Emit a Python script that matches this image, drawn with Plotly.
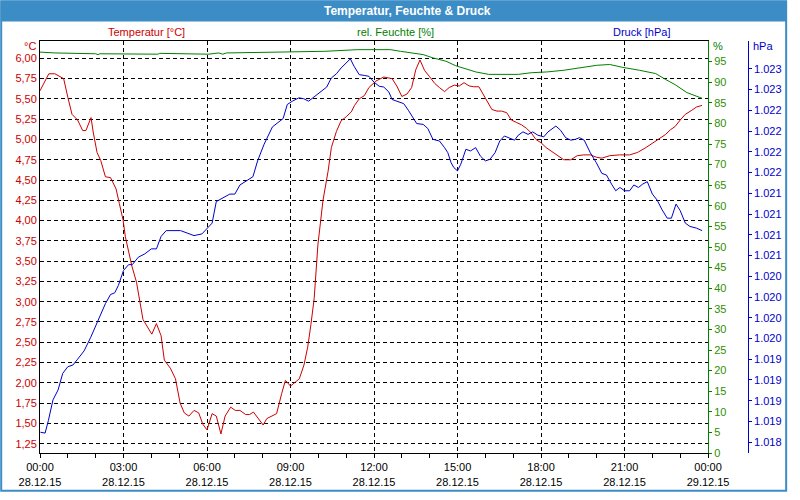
import plotly.graph_objects as go

# ---------------- data (minutes since 28.12.15 00:00) ----------------
temp_time = [0, 19, 32, 51, 60, 69, 81, 92, 99, 110, 115, 123, 131, 141, 152, 164, 171, 179, 184,
             198, 208, 215, 222, 241, 251, 261, 268, 281, 292, 302, 311, 321, 332, 342, 351, 360,
             371, 380, 390, 399, 411, 421, 431, 443, 452, 460, 472, 481, 489, 500, 510, 521, 529,
             540, 549, 559, 569, 577, 584, 591, 599, 610, 621, 628, 639, 649, 660, 671, 678, 688,
             699, 709, 724, 741, 759, 769, 780, 791, 801, 810, 819, 829, 839, 851, 861, 872, 882,
             893, 904, 914, 925, 935, 946, 953, 964, 974, 985, 995, 1006, 1016, 1027, 1038, 1048,
             1059, 1069, 1080, 1091, 1101, 1115, 1129, 1144, 1158, 1172, 1186, 1200, 1211, 1228,
             1249, 1271, 1288, 1306, 1327, 1348, 1359, 1369, 1380, 1391, 1405, 1415, 1427]
temp = [5.60, 5.81, 5.81, 5.75, 5.52, 5.31, 5.24, 5.11, 5.11, 5.27, 5.08, 4.84, 4.74, 4.54, 4.53,
        4.39, 4.21, 4.01, 3.80, 3.44, 3.24, 3.00, 2.78, 2.60, 2.73, 2.58, 2.28, 2.18, 2.05, 1.75,
        1.63, 1.59, 1.66, 1.63, 1.49, 1.42, 1.62, 1.59, 1.37, 1.59, 1.70, 1.66, 1.66, 1.61, 1.61,
        1.64, 1.54, 1.48, 1.56, 1.59, 1.62, 1.87, 2.03, 1.96, 2.00, 2.05, 2.22, 2.44, 2.72, 3.04,
        3.70, 4.25, 4.61, 4.90, 5.10, 5.23, 5.28, 5.34, 5.42, 5.50, 5.54, 5.64, 5.72, 5.77, 5.75,
        5.66, 5.53, 5.56, 5.64, 5.86, 5.98, 5.85, 5.78, 5.69, 5.64, 5.59, 5.64, 5.67, 5.66, 5.70,
        5.66, 5.65, 5.65, 5.58, 5.46, 5.37, 5.35, 5.35, 5.33, 5.24, 5.21, 5.18, 5.14, 5.08, 5.00,
        4.96, 4.90, 4.86, 4.81, 4.75, 4.75, 4.80, 4.81, 4.81, 4.78, 4.77, 4.80, 4.81, 4.81, 4.84,
        4.90, 4.98, 5.06, 5.12, 5.16, 5.24, 5.31, 5.36, 5.40, 5.42]

hum_time = [0, 32, 120, 125, 129, 180, 254, 258, 364, 385, 394, 402, 529, 565, 586, 614, 685, 755,
            777, 805, 826, 847, 875, 896, 918, 939, 967, 1031, 1059, 1094, 1129, 1165, 1200, 1228,
            1256, 1292, 1327, 1348, 1369, 1394, 1412, 1427]
hum = [97.3, 97.1, 96.9, 96.7, 96.9, 96.8, 96.8, 97.0, 96.8, 97.1, 96.8, 97.1, 97.3, 97.4, 97.5,
       97.5, 97.9, 97.9, 97.5, 97.1, 96.7, 95.9, 95.1, 94.0, 93.3, 92.5, 91.9, 91.9, 92.3, 92.5,
       92.9, 93.6, 94.1, 94.3, 93.6, 92.9, 92.1, 90.7, 89.4, 87.5, 86.7, 86.1]

press_time = [1, 11, 18, 28, 39, 49, 60, 71, 81, 95, 109, 123, 131, 141, 152, 161, 169, 180, 191,
              199, 212, 226, 240, 251, 261, 272, 303, 318, 332, 349, 360, 371, 380, 392, 409, 420,
              431, 448, 459, 469, 483, 501, 515, 524, 533, 544, 558, 568, 579, 593, 607, 618, 628,
              639, 649, 669, 677, 688, 699, 709, 720, 731, 741, 752, 759, 773, 784, 794, 805, 812,
              826, 836, 847, 861, 872, 879, 886, 892, 900, 907, 918, 928, 939, 949, 960, 970, 981,
              991, 1001, 1013, 1023, 1031, 1041, 1052, 1062, 1073, 1086, 1095, 1112, 1122, 1133,
              1144, 1154, 1163, 1173, 1186, 1199, 1211, 1221, 1232, 1241, 1250, 1260, 1271, 1280,
              1290, 1299, 1309, 1320, 1330, 1341, 1352, 1361, 1371, 1380, 1391, 1401, 1415, 1427]
press = [1018.52, 1018.51, 1018.66, 1018.91, 1019.03, 1019.23, 1019.31, 1019.33, 1019.40, 1019.50,
         1019.66, 1019.84, 1019.96, 1020.07, 1020.18, 1020.20, 1020.29, 1020.47, 1020.54, 1020.54,
         1020.63, 1020.67, 1020.73, 1020.73, 1020.88, 1020.95, 1020.95, 1020.92, 1020.89, 1020.91,
         1020.98, 1021.04, 1021.30, 1021.34, 1021.39, 1021.39, 1021.50, 1021.56, 1021.60, 1021.79,
         1021.99, 1022.20, 1022.26, 1022.30, 1022.47, 1022.51, 1022.55, 1022.54, 1022.51, 1022.57,
         1022.64, 1022.68, 1022.79, 1022.84, 1022.91, 1023.02, 1022.93, 1022.83, 1022.82, 1022.81,
         1022.74, 1022.69, 1022.68, 1022.62, 1022.53, 1022.50, 1022.48, 1022.40, 1022.31, 1022.24,
         1022.23, 1022.18, 1022.05, 1022.03, 1021.95, 1021.89, 1021.77, 1021.71, 1021.67, 1021.75,
         1021.93, 1021.91, 1021.95, 1021.85, 1021.79, 1021.81, 1021.89, 1022.03, 1022.09, 1022.06,
         1022.04, 1022.10, 1022.14, 1022.11, 1022.14, 1022.10, 1022.08, 1022.14, 1022.21, 1022.16,
         1022.07, 1022.04, 1022.05, 1022.07, 1022.04, 1021.89, 1021.77, 1021.64, 1021.62, 1021.51,
         1021.43, 1021.47, 1021.43, 1021.43, 1021.50, 1021.47, 1021.51, 1021.54, 1021.39, 1021.32,
         1021.20, 1021.10, 1021.10, 1021.27, 1021.19, 1021.04, 1021.00, 1020.98, 1020.95]

# ---------------- ticks ----------------
x_tickvals = [0, 180, 360, 540, 720, 900, 1080, 1260, 1440]
x_ticktext = ["00:00<br>28.12.15", "03:00<br>28.12.15", "06:00<br>28.12.15", "09:00<br>28.12.15",
              "12:00<br>28.12.15", "15:00<br>28.12.15", "18:00<br>28.12.15", "21:00<br>28.12.15",
              "00:00<br>29.12.15"]
temp_tickvals = [1.25, 1.50, 1.75, 2.00, 2.25, 2.50, 2.75, 3.00, 3.25, 3.50, 3.75, 4.00, 4.25,
                 4.50, 4.75, 5.00, 5.25, 5.50, 5.75, 6.00]
temp_ticktext = ["1,25", "1,50", "1,75", "2,00", "2,25", "2,50", "2,75", "3,00", "3,25", "3,50",
                 "3,75", "4,00", "4,25", "4,50", "4,75", "5,00", "5,25", "5,50", "5,75", "6,00"]
hum_tickvals = [0, 5, 10, 15, 20, 25, 30, 35, 40, 45, 50, 55, 60, 65, 70, 75, 80, 85, 90, 95]
press_tickvals = [1018.40, 1018.65, 1018.90, 1019.15, 1019.40, 1019.65, 1019.90, 1020.15, 1020.40,
                  1020.65, 1020.90, 1021.15, 1021.40, 1021.65, 1021.90, 1022.15, 1022.40, 1022.65,
                  1022.90]
press_ticktext = ["1.018", "1.019", "1.019", "1.019", "1.019", "1.020", "1.020", "1.020", "1.020",
                  "1.021", "1.021", "1.021", "1.021", "1.022", "1.022", "1.022", "1.022", "1.023",
                  "1.023"]

RED = "#cc0000"
GREEN = "#008000"
BLUE = "#0000cc"
FRAME = "#3c8dc6"
FONT = "Liberation Sans"

fig = go.Figure()
fig.add_trace(go.Scatter(x=temp_time, y=temp, mode="lines", line=dict(color=RED, width=1),
                         name="Temperatur [°C]", yaxis="y"))
fig.add_trace(go.Scatter(x=hum_time, y=hum, mode="lines", line=dict(color=GREEN, width=1),
                         name="rel. Feuchte [%]", yaxis="y2"))
fig.add_trace(go.Scatter(x=press_time, y=press, mode="lines", line=dict(color=BLUE, width=1),
                         name="Druck [hPa]", yaxis="y3"))

W_PLOT = 740.0
H_PLOT = 420.0


def px(xp):
    return (xp - 40) / W_PLOT


def py(yp):
    return (461 - yp) / H_PLOT


fig.update_layout(
    width=800, height=500,
    margin=dict(l=40, r=20, t=41, b=39),
    paper_bgcolor="white", plot_bgcolor="white",
    showlegend=False,
    font=dict(family=FONT, size=11, color="black"),
    xaxis=dict(domain=[0, 680 / W_PLOT], range=[0, 1440], tickmode="array",
               tickvals=x_tickvals, ticktext=x_ticktext, showgrid=True, gridcolor="black",
               griddash="4px,3px", gridwidth=1, showline=True, linecolor="black", linewidth=1,
               mirror=True, ticks="outside", ticklen=4, tickcolor="black", zeroline=False,
               minor=dict(tick0=0, dtick=60, ticks="outside", ticklen=4, tickcolor="black",
                          showgrid=False),
               tickfont=dict(size=11, color="black")),
    yaxis=dict(range=[1.135, 6.214], tickmode="array", tickvals=temp_tickvals,
               ticktext=temp_ticktext, showgrid=True, gridcolor="black", griddash="4px,3px",
               gridwidth=1, showline=True, linecolor="black", linewidth=1, ticks="",
               zeroline=False, tickfont=dict(size=11, color=RED)),
    yaxis2=dict(range=[0, 100], overlaying="y", side="right", anchor="x", tickmode="array",
                tickvals=hum_tickvals, showgrid=False, showline=True, linecolor=GREEN,
                linewidth=1, ticks="outside", ticklen=3, tickcolor=GREEN, zeroline=False,
                tickfont=dict(size=11, color="#2f8f00")),
    yaxis3=dict(range=[1018.27, 1023.235], overlaying="y", side="right", anchor="free",
                position=(760.5 - 40) / W_PLOT, tickmode="array", tickvals=press_tickvals,
                ticktext=press_ticktext, showgrid=False, showline=True, linecolor=BLUE,
                linewidth=1, ticks="outside", ticklen=3, tickcolor=BLUE, zeroline=False,
                tickfont=dict(size=11, color=BLUE)),
)

# title bar and frame
fig.add_shape(type="rect", xref="paper", yref="paper", x0=px(0), x1=px(800), y0=py(21), y1=py(0),
              fillcolor=FRAME, line=dict(width=0), layer="above")
fig.add_shape(type="rect", xref="paper", yref="paper", x0=px(0.5), x1=px(799.5), y0=py(499.5),
              y1=py(0.5), line=dict(color=FRAME, width=2), layer="above")

annots = [
    dict(text="<b>Temperatur, Feuchte &amp; Druck</b>", x=px(414), y=py(10.5), color="white",
         xanchor="center", size=12),
    dict(text="Temperatur [°C]", x=px(148), y=py(31.5), color=RED, xanchor="center", size=11),
    dict(text="rel. Feuchte [%]", x=px(402), y=py(31.5), color=GREEN, xanchor="center", size=11),
    dict(text="Druck [hPa]", x=px(652), y=py(31.5), color=BLUE, xanchor="center", size=11),
    dict(text="°C", x=px(38), y=py(46), color=RED, xanchor="right", size=11),
    dict(text="%", x=px(723), y=py(46), color=GREEN, xanchor="left", size=11),
    dict(text="hPa", x=px(764), y=py(46), color=BLUE, xanchor="left", size=11),
]
for a in annots:
    fig.add_annotation(text=a["text"], x=a["x"], y=a["y"], xref="paper", yref="paper",
                       xanchor=a["xanchor"], yanchor="middle", showarrow=False,
                       font=dict(family=FONT, size=a["size"], color=a["color"]))

fig.write_html("out.html")
